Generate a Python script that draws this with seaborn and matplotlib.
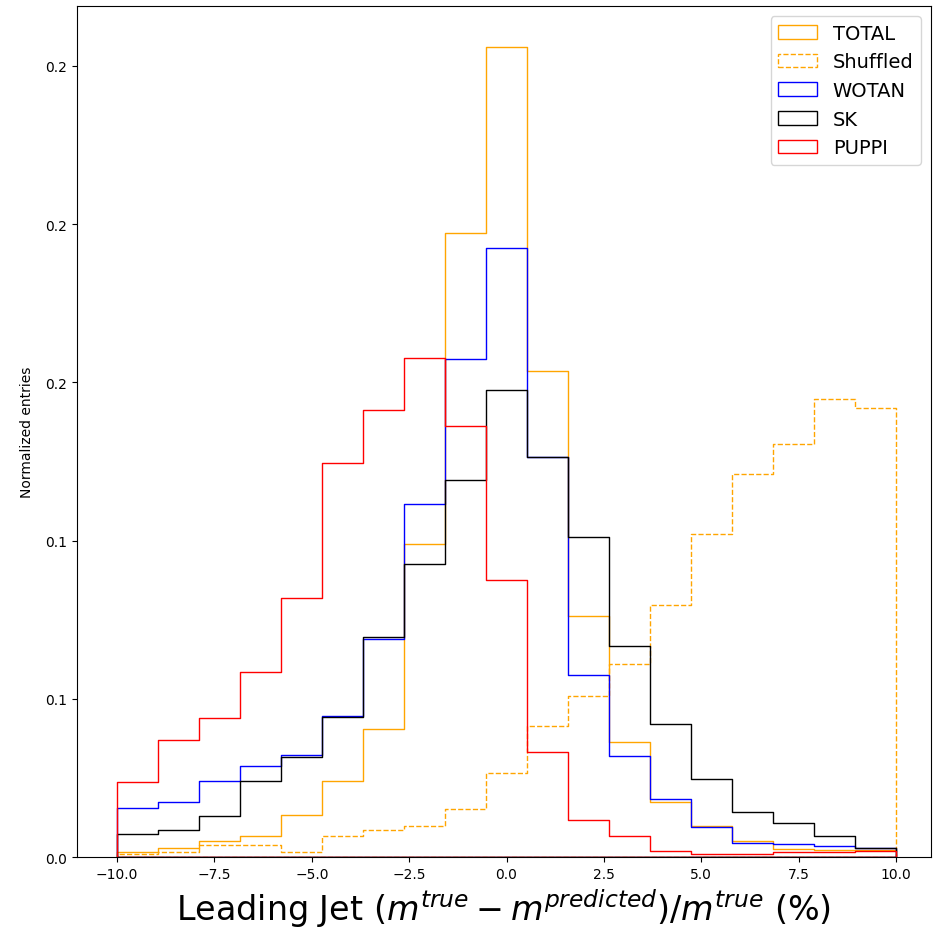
import numpy as np
import pandas as pd
import matplotlib
matplotlib.use("Agg")
import matplotlib.pyplot as plt
import seaborn as sns

# 19 bins between -10 and 10 (normalized entries per bin)
bin_lo, bin_hi, n_bins = -10, 10, 19

total = [0.0017, 0.0027, 0.0051, 0.0067, 0.0133, 0.0241, 0.0404, 0.0990, 0.1972, 0.2561,
         0.1537, 0.0762, 0.0362, 0.0173, 0.0099, 0.0051, 0.0025, 0.0023, 0.0022]
shuffled = [0.0009, 0.0017, 0.0038, 0.0038, 0.0017, 0.0065, 0.0085, 0.0097, 0.0152, 0.0265,
            0.0414, 0.0509, 0.0609, 0.0797, 0.1020, 0.1209, 0.1304, 0.1446, 0.1420]
wotan = [0.0154, 0.0175, 0.0240, 0.0288, 0.0322, 0.0446, 0.0688, 0.1117, 0.1575, 0.1925,
         0.1264, 0.0575, 0.0320, 0.0183, 0.0094, 0.0044, 0.0041, 0.0036, 0.0027]
sk = [0.0074, 0.0084, 0.0128, 0.0241, 0.0315, 0.0441, 0.0694, 0.0925, 0.1191, 0.1475,
      0.1263, 0.1012, 0.0667, 0.0420, 0.0248, 0.0141, 0.0106, 0.0066, 0.0027]
puppi = [0.0236, 0.0369, 0.0439, 0.0583, 0.0817, 0.1246, 0.1412, 0.1578, 0.1361, 0.0875,
         0.0333, 0.0118, 0.0067, 0.0020, 0.0011, 0.0008, 0.0015, 0.0015, 0.0020]

labels = ["TOTAL", "Shuffled", "WOTAN", "SK", "PUPPI"]
series = [total, shuffled, wotan, sk, puppi]
colors = ["orange", "orange", "blue", "black", "red"]
styles = ["-", "--", "-", "-", "-"]

# y ticks every 0.05, labels rounded to one decimal as in the original
yticks = [0.0, 0.05, 0.10, 0.15, 0.20, 0.25]
yticklabels = ["0.0", "0.1", "0.1", "0.2", "0.2", "0.2"]

edges = np.linspace(bin_lo, bin_hi, n_bins + 1)
centers = (edges[:-1] + edges[1:]) / 2

fig = plt.figure(figsize=(9.33, 9.37), dpi=100)
ax = fig.add_axes([77 / 933, 1 - 858 / 937, (931 - 77) / 933, (858 - 7) / 937])

# bins passed as a plain list (seaborn compares bins to "auto")
for lab, vals, col, ls in zip(labels, series, colors, styles):
    df = pd.DataFrame({"x": centers, "w": vals})
    sns.histplot(data=df, x="x", weights="w", bins=edges.tolist(), element="step",
                 fill=True, facecolor="none", color=col, linestyle=ls, linewidth=1.0,
                 label=lab, ax=ax)

ax.set_xlim(-11.03, 10.9)
ax.set_ylim(bottom=0)
ax.set_yticks(yticks)
ax.set_yticklabels(yticklabels)

ax.set_xlabel(r"Leading Jet ($m^{true} - m^{predicted}$)/$m^{true}$ (%)", fontsize=24)
ax.set_ylabel("Normalized entries", fontsize=10, labelpad=8)
ax.legend(loc="upper right", fontsize=14)

fig.savefig("out.png", dpi=100)
